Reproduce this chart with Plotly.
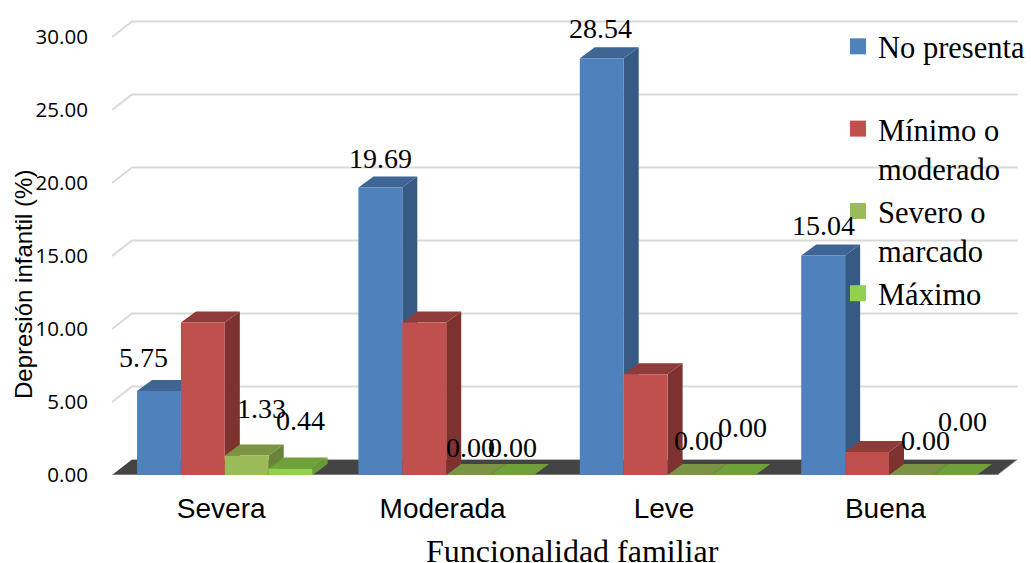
import plotly.graph_objects as go

categories = ["Severa", "Moderada", "Leve", "Buena"]
series_names = ["No presenta", "Mínimo o<br>moderado", "Severo o<br>marcado", "Máximo"]
no_presenta = [5.75, 19.69, 28.54, 15.04]
minimo = [10.45, 10.45, 6.9, 1.57]
severo = [1.33, 0.0, 0.0, 0.0]
maximo = [0.44, 0.0, 0.0, 0.0]
y_ticks = [0, 5, 10, 15, 20, 25, 30]

series = [no_presenta, minimo, severo, maximo]
front_colors = ["#4f81bd", "#c0504d", "#9bbb59", "#92d050"]
side_colors = ["#375a85", "#7d3230", "#6b8239", "#6b9a38"]
top_colors = ["#3e6594", "#8f3b39", "#7b9343", "#6fa03a"]
show_label = [True, False, True, True]
# label nudges in screen px per series/group
label_dx = [[-15, 0, -1, 0], None, [15, 2, 9, 15], [10, 0, 9, 8]]
label_dy = [[34, 29, 30, 30], None, [47, 28, 35, 35], [48, 28, 48, 54]]

X_PX = 221.4
Y_PX = 14.6
BAR_W = 43.9 / X_PX
BAR_START = -0.387
BAR_DX, BAR_DY = 15 / X_PX, 11 / Y_PX
WALL_DX, WALL_DY = 20 / X_PX, 15.5 / Y_PX
X_MIN, X_MAX = -0.5, 3.5
LABEL_NUDGE = -1.5 / X_PX
GRID = "#d9d9d9"

fig = go.Figure()


def poly(xs, ys, color):
    fig.add_trace(go.Scatter(x=xs, y=ys, mode="lines", fill="toself", fillcolor=color,
                             line=dict(width=0, color=color), hoverinfo="skip", showlegend=False))


# back wall gridlines with their diagonal on the side wall
for t in y_ticks[1:]:
    fig.add_trace(go.Scatter(x=[X_MIN, X_MIN + WALL_DX, X_MAX + WALL_DX],
                             y=[t, t + WALL_DY, t + WALL_DY], mode="lines",
                             line=dict(color=GRID, width=2), hoverinfo="skip", showlegend=False))

# floor
poly([X_MIN, X_MAX, X_MAX + WALL_DX, X_MIN + WALL_DX, X_MIN],
     [0, 0, WALL_DY, WALL_DY, 0], "#444444")
fig.add_trace(go.Scatter(x=[X_MIN, X_MAX, X_MAX + WALL_DX, X_MIN + WALL_DX],
                         y=[0, 0, WALL_DY, WALL_DY], mode="lines",
                         line=dict(color="#b8b8b8", width=1), hoverinfo="skip", showlegend=False))

# depth faces, painted left to right
for k, vals in enumerate(series):
    sx, sy, tx, ty = [], [], [], []
    for i, v in enumerate(vals):
        l = i + BAR_START + k * BAR_W
        r = l + BAR_W
        sx += [r, r, r + BAR_DX, r + BAR_DX, r, None]
        sy += [0, v, v + BAR_DY, BAR_DY, 0, None]
        tx += [l, r, r + BAR_DX, l + BAR_DX, l, None]
        ty += [v, v, v + BAR_DY, v + BAR_DY, v, None]
    poly(sx, sy, side_colors[k])
    poly(tx, ty, top_colors[k])

# front faces on an overlaid subplot so they sit over all depth faces
for k, vals in enumerate(series):
    fig.add_trace(go.Bar(x=list(range(len(categories))), y=vals, width=BAR_W,
                         offset=BAR_START + k * BAR_W, marker=dict(color=front_colors[k], line=dict(width=0)),
                         xaxis="x2", yaxis="y2", showlegend=False, hoverinfo="skip"))

# legend keys
for k, name in enumerate(series_names):
    label = name if "<br>" in name or k == len(series_names) - 1 else name + "<br>&nbsp;"
    fig.add_trace(go.Scatter(x=[None], y=[None], mode="markers", name=label, legendgroup=str(k),
                             marker=dict(symbol="square", size=16, color=front_colors[k])))

annotations = []
for k, vals in enumerate(series):
    if not show_label[k]:
        continue
    for i, v in enumerate(vals):
        annotations.append(dict(x=i + BAR_START + (k + 0.5) * BAR_W, y=v, xref="x", yref="y",
                                text=f"{v:.2f}", showarrow=False, xanchor="center", yanchor="middle",
                                xshift=label_dx[k][i], yshift=label_dy[k][i],
                                font=dict(family="Liberation Serif", size=28, color="#000000")))
annotations.append(dict(x=(23 - 112) / 919, y=(475 - 285) / 475, xref="paper", yref="paper",
                        text="Depresión infantil (%)", showarrow=False, textangle=-90,
                        xanchor="center", yanchor="middle",
                        font=dict(family="Liberation Sans", size=24, color="#000000")))
annotations.append(dict(x=(572 - 112) / 919, y=(475 - 551) / 475, xref="paper", yref="paper",
                        text="Funcionalidad familiar", showarrow=False,
                        xanchor="center", yanchor="middle",
                        font=dict(family="Liberation Serif", size=32, color="#000000")))

xr = [X_MIN, X_MIN + 919 / X_PX]
yr = [0, 475 / Y_PX]
fig.update_layout(
    width=1031, height=563, autosize=False,
    margin=dict(l=112, r=0, t=0, b=88),
    paper_bgcolor="#ffffff", plot_bgcolor="#ffffff",
    barmode="overlay",
    annotations=annotations,
    legend=dict(x=(838 - 112) / 919, y=(475 - 20) / 475, xanchor="left", yanchor="top", valign="top",
                bgcolor="rgba(0,0,0,0)", tracegroupgap=0, itemclick=False, itemdoubleclick=False,
                entrywidth=120, entrywidthmode="pixels",
                font=dict(family="Liberation Serif", size=30.5, color="#000000")),
    xaxis=dict(range=xr, tickmode="array", tickvals=[i + LABEL_NUDGE for i in range(len(categories))],
               ticktext=categories,
               showgrid=False, zeroline=False, showline=False, ticks="outside", ticklen=8,
               tickcolor="rgba(0,0,0,0)",
               tickfont=dict(family="Liberation Sans", size=28, color="#000000")),
    yaxis=dict(range=yr, tickmode="array", tickvals=y_ticks, tickformat=".2f",
               showgrid=False, zeroline=False, showline=False, ticks="outside", ticklen=19,
               tickcolor="rgba(0,0,0,0)",
               tickfont=dict(family="Open Sans", size=20.5, color="#000000")),
    xaxis2=dict(range=xr, overlaying="x", visible=False),
    yaxis2=dict(range=yr, overlaying="y", visible=False),
)

fig.write_html("out.html", config=dict(displayModeBar=False),
               post_script="document.body.style.margin='0';document.documentElement.style.overflow='hidden';")
